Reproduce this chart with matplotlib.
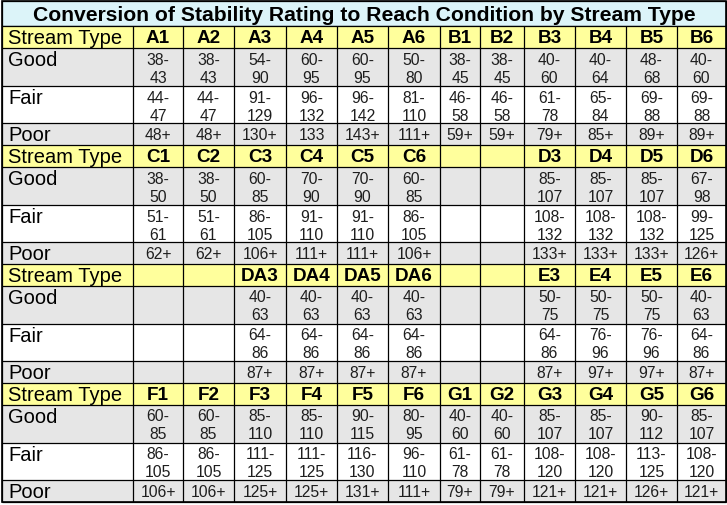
import matplotlib
matplotlib.use("Agg")
import matplotlib.pyplot as plt
from matplotlib.patches import Rectangle

TITLE = "Conversion of Stability Rating to Reach Condition by Stream Type"
ROW_LABELS = ["Stream Type", "Good", "Fair", "Poor"]

types_1 = ["A1", "A2", "A3", "A4", "A5", "A6", "B1", "B2", "B3", "B4", "B5", "B6"]
good_1 = ["38-43", "38-43", "54-90", "60-95", "60-95", "50-80", "38-45", "38-45", "40-60", "40-64", "48-68", "40-60"]
fair_1 = ["44-47", "44-47", "91-129", "96-132", "96-142", "81-110", "46-58", "46-58", "61-78", "65-84", "69-88", "69-88"]
poor_1 = ["48+", "48+", "130+", "133", "143+", "111+", "59+", "59+", "79+", "85+", "89+", "89+"]

types_2 = ["C1", "C2", "C3", "C4", "C5", "C6", "", "", "D3", "D4", "D5", "D6"]
good_2 = ["38-50", "38-50", "60-85", "70-90", "70-90", "60-85", "", "", "85-107", "85-107", "85-107", "67-98"]
fair_2 = ["51-61", "51-61", "86-105", "91-110", "91-110", "86-105", "", "", "108-132", "108-132", "108-132", "99-125"]
poor_2 = ["62+", "62+", "106+", "111+", "111+", "106+", "", "", "133+", "133+", "133+", "126+"]

types_3 = ["", "", "DA3", "DA4", "DA5", "DA6", "", "", "E3", "E4", "E5", "E6"]
good_3 = ["", "", "40-63", "40-63", "40-63", "40-63", "", "", "50-75", "50-75", "50-75", "40-63"]
fair_3 = ["", "", "64-86", "64-86", "64-86", "64-86", "", "", "64-86", "76-96", "76-96", "64-86"]
poor_3 = ["", "", "87+", "87+", "87+", "87+", "", "", "87+", "97+", "97+", "87+"]

types_4 = ["F1", "F2", "F3", "F4", "F5", "F6", "G1", "G2", "G3", "G4", "G5", "G6"]
good_4 = ["60-85", "60-85", "85-110", "85-110", "90-115", "80-95", "40-60", "40-60", "85-107", "85-107", "90-112", "85-107"]
fair_4 = ["86-105", "86-105", "111-125", "111-125", "116-130", "96-110", "61-78", "61-78", "108-120", "108-120", "113-125", "108-120"]
poor_4 = ["106+", "106+", "125+", "125+", "131+", "111+", "79+", "79+", "121+", "121+", "126+", "121+"]

blocks = [
    (types_1, good_1, fair_1, poor_1),
    (types_2, good_2, fair_2, poor_2),
    (types_3, good_3, fair_3, poor_3),
    (types_4, good_4, fair_4, poor_4),
]

# layout (pixel coordinates)
W, H = 727, 506
col_edges = [2, 133, 183, 234, 286, 337, 388, 440, 480, 524, 575, 626, 677, 726]
title_top, title_bot = 2, 27
row_h = [22, 38, 37, 22]
block_h = sum(row_h)

TITLE_BG = "#dcf4f9"
HEAD_BG = "#ffff9c"
GREY_BG = "#e6e6e6"
WHITE_BG = "#ffffff"
VAL_COLOR = "#1e1e1e"
FONT = "Liberation Sans"
VAL_FS = 11.3

fig = plt.figure(figsize=(W / 100, H / 100), dpi=100)
ax = fig.add_axes([0, 0, 1, 1])
ax.set_xlim(0, W)
ax.set_ylim(H, 0)
ax.axis("off")

lw = 0.9

# title
ax.add_patch(Rectangle((col_edges[0], title_top), col_edges[-1] - col_edges[0], title_bot - title_top,
                       facecolor=TITLE_BG, edgecolor="black", lw=lw))
ax.text((col_edges[0] + col_edges[-1]) / 2, (title_top + title_bot) / 2 + 1, TITLE,
        ha="center", va="center", fontsize=15.2, fontweight="bold", family=FONT, color="black")

row_bg = [HEAD_BG, GREY_BG, WHITE_BG, GREY_BG]

for b, (types, good, fair, poor) in enumerate(blocks):
    y0 = title_bot + b * block_h
    rows = [types, good, fair, poor]
    y = y0
    for r, (h, vals) in enumerate(zip(row_h, rows)):
        ax.add_patch(Rectangle((col_edges[0], y), col_edges[-1] - col_edges[0], h,
                               facecolor=row_bg[r], edgecolor="none"))
        if r in (1, 2):
            ly = y + 11.5
        else:
            ly = y + h / 2 + 0.5
        ax.text(col_edges[0] + 6, ly, ROW_LABELS[r], ha="left", va="center",
                fontsize=14.5, family=FONT, color="black")
        for c, v in enumerate(vals):
            cx = (col_edges[c + 1] + col_edges[c + 2]) / 2
            if not v:
                continue
            if r == 0:
                ax.text(cx, y + h / 2 + 0.5, v, ha="center", va="center", fontsize=13.6,
                        fontweight="bold", family=FONT, color="black")
            elif r == 3:
                ax.text(cx, y + h / 2 + 0.5, v, ha="center", va="center", fontsize=VAL_FS,
                        family=FONT, color=VAL_COLOR)
            else:
                lo, hi = v.split("-")
                ax.text(cx, y + 11.0, lo + "-", ha="center", va="center", fontsize=VAL_FS,
                        family=FONT, color=VAL_COLOR)
                ax.text(cx, y + 29.0, hi, ha="center", va="center", fontsize=VAL_FS,
                        family=FONT, color=VAL_COLOR)
        y += h
        ax.plot([col_edges[0], col_edges[-1]], [y, y], color="black", lw=lw, solid_capstyle="butt")
    for xe in col_edges:
        ax.plot([xe, xe], [y0, y0 + block_h], color="black", lw=lw, solid_capstyle="butt")

ax.plot([col_edges[0], col_edges[-1]], [title_bot, title_bot], color="black", lw=lw)
ax.add_patch(Rectangle((col_edges[0], title_top), col_edges[-1] - col_edges[0],
                       title_bot + 4 * block_h - title_top, facecolor="none", edgecolor="black", lw=1.2))

fig.savefig("out.png", dpi=100)
